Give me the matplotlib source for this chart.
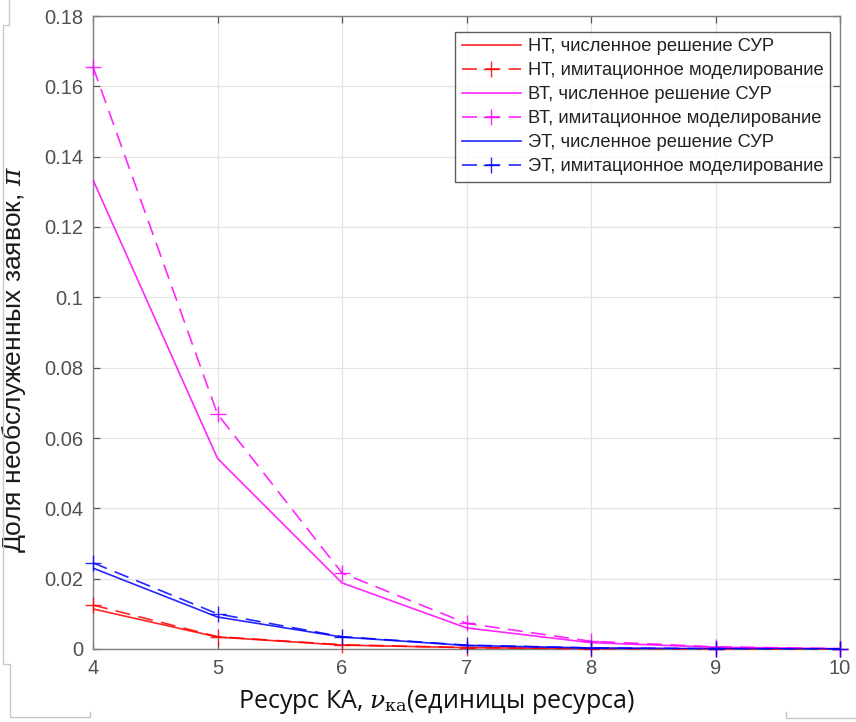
import matplotlib
matplotlib.use("Agg")
import matplotlib.pyplot as plt
from matplotlib.lines import Line2D

plt.rcParams['mathtext.fontset'] = 'dejavuserif'

x = [4, 5, 6, 7, 8, 9, 10]
nt_num = [0.0114, 0.0034, 0.0011, 0.0004, 0.0001, 0.00003, 0.00001]
nt_sim = [0.0125, 0.0035, 0.0012, 0.0004, 0.0001, 0.00003, 0.00001]
vt_num = [0.1334, 0.0542, 0.0188, 0.0060, 0.0018, 0.0005, 0.0001]
vt_sim = [0.1655, 0.0668, 0.0216, 0.0073, 0.0022, 0.0006, 0.0001]
et_num = [0.0230, 0.0091, 0.0034, 0.0010, 0.0003, 0.0001, 0.00002]
et_sim = [0.0245, 0.0100, 0.0035, 0.0011, 0.0003, 0.0001, 0.00002]

xticks = [4, 5, 6, 7, 8, 9, 10]
yticks = [0, 0.02, 0.04, 0.06, 0.08, 0.1, 0.12, 0.14, 0.16, 0.18]
ytick_labels = ['0', '0.02', '0.04', '0.06', '0.08', '0.1', '0.12', '0.14', '0.16', '0.18']

labels = ['НТ, численное решение СУР', 'НТ, имитационное моделирование',
          'ВТ, численное решение СУР', 'ВТ, имитационное моделирование',
          'ЭТ, численное решение СУР', 'ЭТ, имитационное моделирование']

fig = plt.figure(figsize=(8.56, 7.22), dpi=100)
ax = fig.add_axes([93/856, 1-649/722, (840-93)/856, (649-16)/722])

red, mag, blue = '#ff0000', '#ff00ff', '#0000ff'
lw = 1.2
dash = (9, 5)
ms = 11
series = [(nt_num, nt_sim, red), (vt_num, vt_sim, mag), (et_num, et_sim, blue)]
for i, (num, sim, c) in enumerate(series):
    ax.plot(x, num, color=c, lw=lw, label=labels[2*i], zorder=3, alpha=0.85)
    ax.plot(x, sim, color=c, lw=lw, ls=(0, dash), marker='+', ms=ms, mew=1.0,
            label=labels[2*i+1], zorder=3, alpha=0.85, clip_on=False)

ax.set_xlim(4, 10)
ax.set_ylim(0, 0.18)
ax.set_xticks(xticks)
ax.set_xticklabels([str(t) for t in xticks])
ax.set_yticks(yticks)
ax.set_yticklabels(ytick_labels)
ax.grid(True, color='#e3e3e3', lw=0.9)
ax.set_axisbelow(True)
for s in ax.spines.values():
    s.set_color('#808080')
    s.set_linewidth(1.0)
ax.tick_params(direction='in', top=True, right=True, length=5, width=0.9,
               color='#555555', labelsize=14.5, labelcolor='#505050', pad=7)
for lab in ax.get_xticklabels() + ax.get_yticklabels():
    lab.set_family('Liberation Sans')

ax.set_ylabel('Доля необслуженных заявок, $\\pi$', fontsize=19,
              family='Liberation Sans', color='#1a1a1a')
ax.yaxis.set_label_coords((28-93)/747, (649-360)/633)
ax.set_xlabel('Ресурс КА, $\\mathit{\\nu}_{\\mathrm{ка}}$(единицы ресурса)', fontsize=18,
              family='Open Sans', color='#111111')
ax.xaxis.set_label_coords((436-93)/747, (649-688)/633)

leg = ax.legend(loc='upper right', bbox_to_anchor=(830/856, 1-32/722),
                bbox_transform=fig.transFigure, frameon=True, fancybox=False,
                edgecolor='#333333', handlelength=3.2, borderaxespad=0,
                labelspacing=0.38, borderpad=0.35, handletextpad=0.4,
                prop={'family': 'Liberation Sans', 'size': 13.2})
leg.get_frame().set_linewidth(1.0)
for t in leg.get_texts():
    t.set_color('#222222')

# screenshot frame artifacts
gc = '#c8c8c8'
def fl(xs, ys):
    fig.add_artist(Line2D([v/856 for v in xs], [1-v/722 for v in ys], color=gc, lw=1.0))
fl([9, 9, 3, 3, 10, 10, 90, 90], [0, 25, 25, 664, 664, 717, 717, 712])
fl([786, 786, 856], [712, 718, 718])

fig.savefig('out.png', dpi=100)
